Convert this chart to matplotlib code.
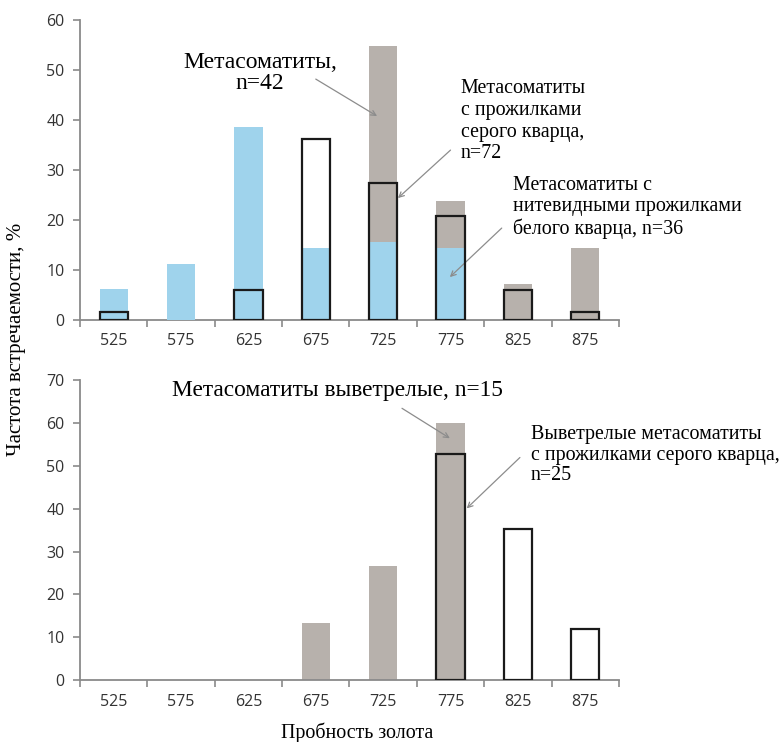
import numpy as np
import matplotlib.pyplot as plt

# Gold fineness classes
fineness = ['525', '575', '625', '675', '725', '775', '825', '875']

# Upper panel: frequency, %
meta_all = [0, 0, 0, 0, 54.8, 23.8, 7.1, 14.3]          # метасоматиты, n=42
white_qz = [6.1, 11.2, 38.6, 14.4, 15.6, 14.4, 0, 0]    # белый кварц, n=36
grey_qz = [1.5, 0, 6.0, 36.1, 27.4, 20.7, 6.0, 1.5]     # серый кварц, n=72

# Lower panel: frequency, %
weathered = [0, 0, 0, 13.3, 26.6, 60.0, 0, 0]          # выветрелые, n=15
weathered_grey = [0, 0, 0, 0, 0, 52.8, 35.4, 12.0]     # выветрелые с серым кварцем, n=25

BLUE = '#9fd3ec'
GREY = '#b7b1ac'
AXIS = '#8a8a8a'
SERIF = ['Liberation Serif', 'DejaVu Serif']
SANS = ['Open Sans', 'DejaVu Sans']

fig = plt.figure(figsize=(7.81, 7.42), dpi=100)
ax1 = fig.add_axes([0.1024, 0.5693, 0.6901, 0.4043])
ax2 = fig.add_axes([0.1024, 0.0836, 0.6901, 0.4036])

x = np.arange(len(fineness))
w = 0.42


def style_axis(ax, ymax, step):
    ax.set_xlim(-0.5, len(fineness) - 0.5)
    ax.set_ylim(0, ymax)
    ax.set_yticks(np.arange(0, ymax + 1, step))
    ax.set_xticks(x)
    ax.set_xticklabels(fineness)
    ax.set_xticks(np.arange(-0.5, len(fineness)), minor=True)
    ax.tick_params(axis='x', which='major', length=0, pad=10)
    ax.tick_params(axis='x', which='minor', length=5, color=AXIS, width=1.2)
    ax.tick_params(axis='y', length=5, color=AXIS, width=1.2, pad=6)
    for lab in ax.get_xticklabels() + ax.get_yticklabels():
        lab.set_fontfamily(SANS)
        lab.set_fontsize(11.5)
        lab.set_color('#333333')
    for s in ['top', 'right']:
        ax.spines[s].set_visible(False)
    for s in ['left', 'bottom']:
        ax.spines[s].set_color(AXIS)
        ax.spines[s].set_linewidth(1.3)


def arrow(ax, start, end):
    ax.annotate('', xy=end, xytext=start,
                arrowprops=dict(arrowstyle='->', color='#8c8c8c', lw=0.9,
                                shrinkA=0, shrinkB=0, mutation_scale=9))


# ---- upper panel ----
ax1.bar(x, meta_all, w, color=GREY, zorder=2)
ax1.bar(x, white_qz, w, color=BLUE, zorder=3)
gq = np.array(grey_qz)
ax1.bar(x[gq > 0], gq[gq > 0], w, facecolor='none', edgecolor='#1a1a1a',
        linewidth=1.6, zorder=4)
style_axis(ax1, 60, 10)

ax1.text(2.17, 49.3, 'Метасоматиты,\nn=42', ha='center', va='center',
         family=SERIF, fontsize=17, linespacing=1.0)
arrow(ax1, (3.00, 48.1), (3.91, 40.7))

ax1.text(5.15, 48.1, 'Метасоматиты\nс прожилками\nсерого кварца,\nn=72',
         ha='left', va='top', family=SERIF, fontsize=14.4, linespacing=1.2)
arrow(ax1, (5.00, 33.9), (4.22, 24.3))

ax1.text(5.93, 28.8, 'Метасоматиты с\nнитевидными прожилками\nбелого кварца, n=36',
         ha='left', va='top', family=SERIF, fontsize=14.4, linespacing=1.16)
arrow(ax1, (5.76, 18.3), (4.99, 8.5))

# ---- lower panel ----
ax2.bar(x, weathered, w, color=GREY, zorder=2)
wg = np.array(weathered_grey)
ax2.bar(x[wg > 0], wg[wg > 0], w, facecolor='none', edgecolor='#1a1a1a',
        linewidth=1.6, zorder=4)
style_axis(ax2, 70, 10)

ax2.text(0.86, 67.6, 'Метасоматиты выветрелые, n=15', ha='left', va='center',
         family=SERIF, fontsize=16.8)
arrow(ax2, (4.28, 63.5), (4.99, 56.5))

ax2.text(6.19, 59.6, 'Выветрелые метасоматиты\nс прожилками серого кварца,\nn=25',
         ha='left', va='top', family=SERIF, fontsize=14.4, linespacing=1.12)
arrow(ax2, (6.03, 52.0), (5.24, 40.1))
ax2.set_xlabel('Пробность золота', family=SERIF, fontsize=14.4)
ax2.xaxis.set_label_coords(0.515, -0.143)

fig.text(0.021, 0.543, 'Частота встречаемости, %', rotation=90, ha='center',
         va='center', family=SERIF, fontsize=15)

fig.savefig('out.png', dpi=100, facecolor='white')
